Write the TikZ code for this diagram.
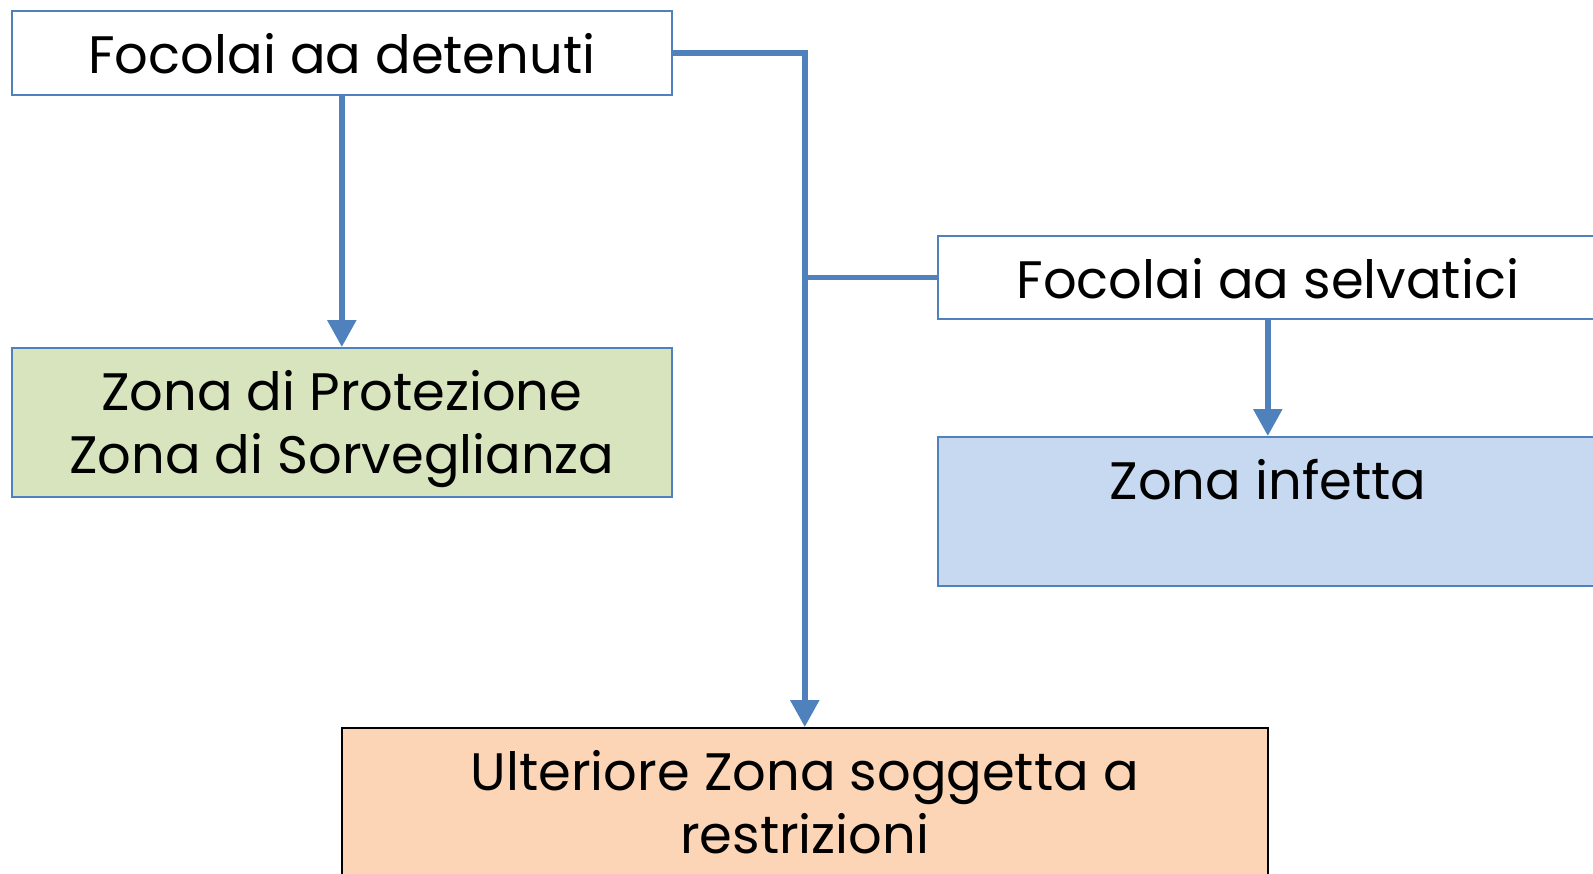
\documentclass[tikz,border=0pt]{standalone}
\usepackage{fontspec}
\setmainfont{Poppins}
\usetikzlibrary{arrows.meta}

\definecolor{lineblue}{HTML}{4F81BD}
\definecolor{zonegreen}{HTML}{D7E4BD}
\definecolor{zoneblue}{HTML}{C6D9F1}
\definecolor{zonepeach}{HTML}{FBD5B5}

\begin{document}
\begin{tikzpicture}[x=0.02cm, y=-0.02cm,
    box/.style = {draw=lineblue, line width=1pt, anchor=north west, inner sep=0pt, align=center,
                  minimum width=13.2cm, text height=1.26cm, font=\fontsize{30}{35.9}\selectfont},
    conn/.style = {lineblue, line width=3.2pt, -{Triangle[length=0.54cm, width=0.56cm]}}]

    \useasboundingbox (0,0) rectangle (1593,873);
    \clip (0,0) rectangle (1593,873);

    % boxes
    \node[box, text depth=0.42cm] (det) at (11,10) {Focolai aa detenuti};
    \node[box, fill=zonegreen, text height=2.52cm, text depth=0.46cm] (prot) at (11,347) {Zona di Protezione\\Zona di Sorveglianza};
    \node[box, text depth=0.40cm] (sel) at (937,235) {Focolai aa selvatici};
    \node[box, fill=zoneblue, text depth=1.72cm] (inf) at (937,436) {Zona infetta};
    \node[box, draw=black, fill=zonepeach, minimum width=18.52cm, text height=2.52cm, text depth=2cm] (ult) at (341,727) {Ulteriore Zona soggetta a\\restrizioni};

    % connectors
    \draw[conn] (det.south) -- (prot.north);
    \draw[conn] (det.east) -| (ult.north);
    \draw[lineblue, line width=3.2pt] (sel.west) -- (sel.west -| ult.north);
    \draw[conn] (sel.south) -- (inf.north);

\end{tikzpicture}
\end{document}
